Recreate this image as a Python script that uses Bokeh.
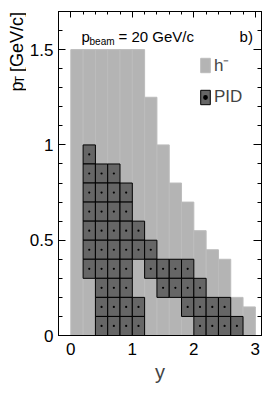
import math
from bokeh.plotting import figure
from bokeh.layouts import row
from bokeh.models import (LinearAxis, SingleIntervalTicker, NumeralTickFormatter,
                          Label, Legend, LegendItem, ColumnDataSource)
from bokeh.embed import file_html
from bokeh.resources import INLINE

# ---- data ----
# h- acceptance: rapidity bins (width 0.2) and max pT of each column
h_y_low = [0.0, 0.2, 0.4, 0.6, 0.8, 1.0, 1.2, 1.4, 1.6, 1.8, 2.0, 2.2, 2.4, 2.6, 2.8]
h_pt_max = [1.5, 1.5, 1.5, 1.5, 1.5, 1.5, 1.25, 1.0, 0.8, 0.7, 0.55, 0.45, 0.4, 0.2, 0.15]
y_bin_width = 0.2
pt_bin_width = 0.1

# PID acceptance cells (lower edges in y and pT)
pid_y_low = [0.2,
             0.2, 0.4, 0.6,
             0.2, 0.4, 0.6, 0.8,
             0.2, 0.4, 0.6, 0.8,
             0.2, 0.4, 0.6, 0.8, 1.0,
             0.2, 0.4, 0.6, 0.8, 1.0, 1.2,
             0.2, 0.4, 0.6, 0.8, 1.2, 1.4, 1.6, 1.8,
             0.4, 0.6, 0.8, 1.4, 1.6, 1.8, 2.0,
             0.4, 0.6, 0.8, 1.0, 1.8, 2.0, 2.2, 2.4,
             0.4, 0.6, 0.8, 1.0, 2.0, 2.2, 2.4, 2.6]
pid_pt_low = ([0.9] * 1 + [0.8] * 3 + [0.7] * 4 + [0.6] * 4 + [0.5] * 5 +
              [0.4] * 6 + [0.3] * 8 + [0.2] * 7 + [0.1] * 8 + [0.0] * 8)

FONT = "Liberation Sans"

# layout geometry (pixels)
TITLE_W = 26
BORDER_L, BORDER_R, BORDER_T, BORDER_B = 31, 12, 11, 58
FRAME_W, FRAME_H = 203, 324
X_RANGE = (-0.2, 3.1)
Y_RANGE = (0.0, 1.7)
TOTAL_H = BORDER_T + FRAME_H + BORDER_B

p = figure(frame_width=FRAME_W, frame_height=FRAME_H, x_range=X_RANGE, y_range=Y_RANGE,
           output_backend="svg", toolbar_location=None,
           min_border_left=BORDER_L, min_border_right=BORDER_R, min_border_top=BORDER_T,
           min_border_bottom=BORDER_B, x_axis_location=None, y_axis_location=None)
p.xgrid.visible = False
p.ygrid.visible = False
p.outline_line_color = "black"
p.outline_line_alpha = 1.0
p.background_fill_color = "white"
p.border_fill_color = "white"

# gray h- columns
h_src = ColumnDataSource(dict(
    left=h_y_low,
    right=[v + y_bin_width for v in h_y_low],
    top=h_pt_max,
    bottom=[0.0] * len(h_y_low)))
h_r = p.quad(left="left", right="right", top="top", bottom="bottom", source=h_src,
             fill_color="#b4b4b4", line_color="#bcbcbc", line_width=1)

# dark PID cells
pid_src = ColumnDataSource(dict(
    left=pid_y_low,
    right=[v + y_bin_width for v in pid_y_low],
    bottom=pid_pt_low,
    top=[v + pt_bin_width for v in pid_pt_low],
    cx=[v + y_bin_width / 2 for v in pid_y_low],
    cy=[v + pt_bin_width / 2 for v in pid_pt_low]))
pid_r = p.quad(left="left", right="right", top="top", bottom="bottom", source=pid_src,
               fill_color="#666666", line_color="black", line_width=1)
pid_dots = p.scatter(x="cx", y="cy", source=pid_src, size=2.2, marker="circle",
                     fill_color="black", line_color=None)


def style_axis(ax, major_in, minor_in, labels=True):
    ax.axis_line_color = "black"
    ax.major_tick_in = major_in
    ax.major_tick_out = 0
    ax.minor_tick_in = minor_in
    ax.minor_tick_out = 0
    ax.major_tick_line_color = "black"
    ax.minor_tick_line_color = "black"
    if not labels:
        ax.major_label_text_font_size = "1px"
        ax.major_label_text_color = None
        ax.major_label_standoff = 0
        ax.axis_label = None
    else:
        ax.major_label_text_font = FONT
        ax.major_label_text_font_size = "17px"
        ax.major_label_text_color = "black"


xb = LinearAxis(ticker=SingleIntervalTicker(interval=1, num_minor_ticks=5))
style_axis(xb, 0, 0)
xb.major_label_standoff = 7
xb.axis_label = "y"
xb.axis_label_text_font = FONT
xb.axis_label_text_font_size = "20px"
xb.axis_label_text_font_style = "normal"
xb.axis_label_standoff = 3
p.add_layout(xb, "below")

yl = LinearAxis(ticker=SingleIntervalTicker(interval=0.5, num_minor_ticks=5),
                formatter=NumeralTickFormatter(format="0.[0]"))
style_axis(yl, 7, 4)
yl.major_label_standoff = 5
p.add_layout(yl, "left")

xt = LinearAxis(ticker=SingleIntervalTicker(interval=1, num_minor_ticks=5))
style_axis(xt, 6, 3, labels=False)
p.add_layout(xt, "above")

yr = LinearAxis(ticker=SingleIntervalTicker(interval=0.5, num_minor_ticks=5))
style_axis(yr, 8, 4, labels=False)
p.add_layout(yr, "right")


def lab(fig, text, x, y, size, angle=0.0):
    l = Label(x=x, y=y, text=text,
              text_font=FONT, text_font_size=size, text_color="black",
              text_baseline="alphabetic", text_align="left", angle=angle)
    fig.add_layout(l)
    return l

# beam momentum text
lab(p, "p", 0.174, 1.569, "15px")
lab(p, "beam", 0.304, 1.543, "10px")
lab(p, "= 20 GeV/c", 0.776, 1.569, "15px")
lab(p, "b)", 2.743, 1.569, "15px")

legend = Legend(items=[LegendItem(label="h⁻", renderers=[h_r]),
                       LegendItem(label="PID", renderers=[pid_r, pid_dots])],
                location=(141, 228), orientation="vertical")
legend.glyph_width = 12
legend.glyph_height = 18
legend.label_height = 18
legend.spacing = 11
legend.padding = 0
legend.margin = 0
legend.label_standoff = 3
legend.border_line_color = None
legend.background_fill_alpha = 0
legend.label_text_font = FONT
legend.label_text_font_size = "17px"
p.add_layout(legend)

# narrow strip holding the rotated y-axis title, sharing the pT scale of the plot
px_per_pt = FRAME_H / (Y_RANGE[1] - Y_RANGE[0])
strip_y_range = (Y_RANGE[0] - BORDER_B / px_per_pt, Y_RANGE[1] + BORDER_T / px_per_pt)
t = figure(width=TITLE_W, height=TOTAL_H, x_range=(0, TITLE_W), y_range=strip_y_range,
           output_backend="svg", toolbar_location=None,
           min_border_left=0, min_border_right=0, min_border_top=0, min_border_bottom=0,
           x_axis_location=None, y_axis_location=None)
t.xgrid.visible = False
t.ygrid.visible = False
t.outline_line_color = None
t.border_fill_color = "white"
t.background_fill_color = "white"

lab(t, "p", 16.5, 1.249, "18px", math.pi / 2)
lab(t, "T", 19, 1.301, "12px", math.pi / 2)
lab(t, "[GeV/c]", 16.5, 1.372, "18px", math.pi / 2)

layout = row(t, p, spacing=0)

open("out.html", "w").write(file_html(layout, INLINE))
